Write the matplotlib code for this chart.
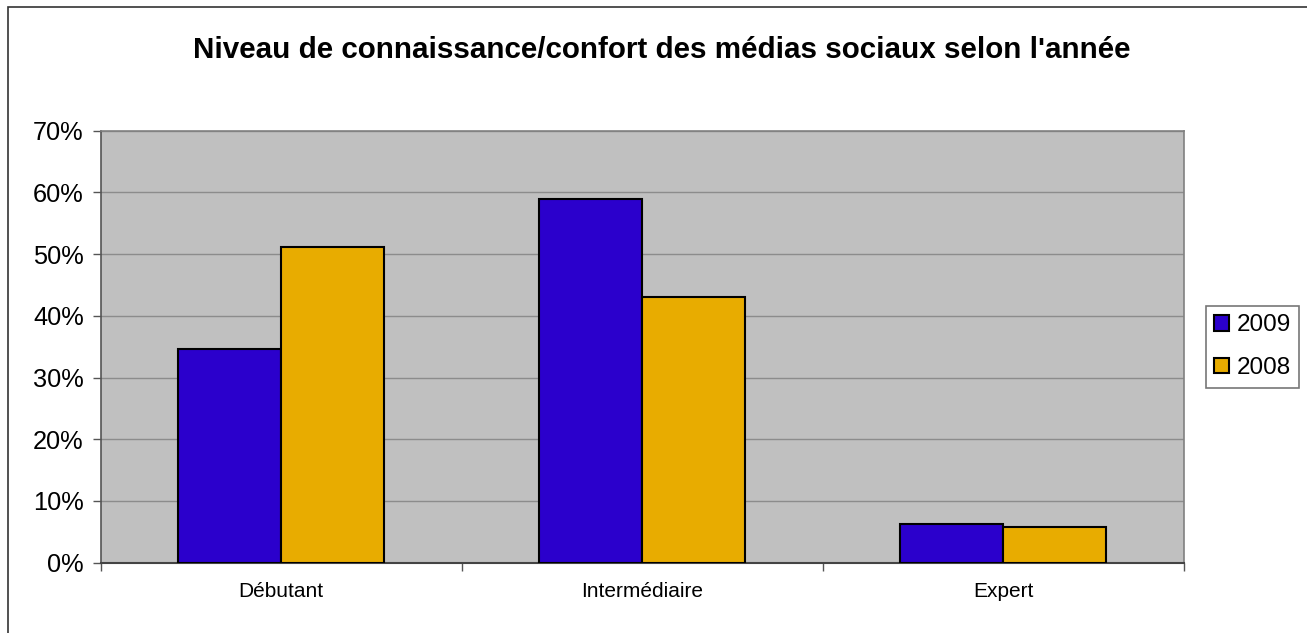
import matplotlib
matplotlib.use("Agg")
import matplotlib.pyplot as plt
import numpy as np
from matplotlib.patches import Rectangle
from matplotlib.ticker import FuncFormatter, FixedLocator

categories = ["Débutant", "Intermédiaire", "Expert"]
series_names = ["2009", "2008"]
values_2009 = [34.6, 58.9, 6.2]
values_2008 = [51.2, 43.0, 5.85]
y_ticks = [0, 10, 20, 30, 40, 50, 60, 70]
title = "Niveau de connaissance/confort des médias sociaux selon l'année"

plt.rcParams['font.family'] = ['Liberation Sans', 'DejaVu Sans']

W, H = 1307, 633
fig = plt.figure(figsize=(W / 100, H / 100), dpi=100)

# outer chart border (left/top visible)
fig.patches.append(Rectangle((7.5 / W, -0.05), 1.2, (H - 7.5) / H + 0.05,
                             transform=fig.transFigure, fill=False,
                             edgecolor='#333333', linewidth=1.2))

ax = fig.add_axes([100.5 / W, (H - 562.7) / H, (1184 - 100.5) / W, (562.7 - 130.7) / H])
ax.set_facecolor('#C0C0C0')

x = np.arange(len(categories))
bw = 0.285
ax.bar(x - bw / 2, values_2009, bw, color='#2B00CC', edgecolor='black', linewidth=1.5,
       label=series_names[0], zorder=3)
ax.bar(x + bw / 2, values_2008, bw, color='#E8AC00', edgecolor='black', linewidth=1.5,
       label=series_names[1], zorder=3)

ax.set_xlim(-0.5, len(categories) - 0.5)
ax.set_ylim(0, 70)
ax.set_yticks(y_ticks)
ax.yaxis.set_major_formatter(FuncFormatter(lambda v, p: f"{int(v)}%"))
ax.yaxis.grid(True, color='#8C8C8C', linewidth=1, zorder=0)
ax.set_axisbelow(True)

ax.set_xticks(x)
ax.set_xticklabels(categories, fontsize=15)
ax.xaxis.set_minor_locator(FixedLocator(np.arange(-0.5, len(categories), 1.0)))
ax.tick_params(axis='x', which='major', length=0, pad=14)
ax.tick_params(axis='x', which='minor', length=6, width=1, color='#555555', direction='out')
ax.tick_params(axis='y', length=6, width=1, color='#555555', labelsize=18.3, pad=6)

for s in ['left', 'right', 'top']:
    ax.spines[s].set_color('#808080')
    ax.spines[s].set_linewidth(1.2)
ax.spines['bottom'].set_color('#444444')
ax.spines['bottom'].set_linewidth(1.5)
ax.spines['left'].set_color('#555555')

fig.text(662 / W, 1 - 50 / H, title, ha='center', va='center', fontsize=21.3, fontweight='bold')

leg = fig.legend(loc='center', bbox_to_anchor=(1252.5 / W, 1 - 346.7 / H), fontsize=17.5,
                 frameon=True, fancybox=False, edgecolor='#555555', handlelength=0.6,
                 handleheight=0.6, handletextpad=0.3, borderpad=0.35, labelspacing=0.85)
leg.get_frame().set_linewidth(1.2)

fig.savefig("out.png", dpi=100)
